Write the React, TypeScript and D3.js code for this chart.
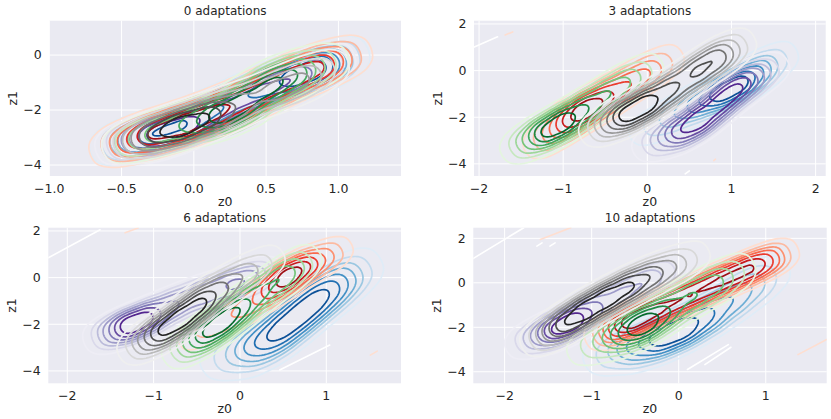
import * as d3 from 'd3';

const W = 831;
const H = 419;

// panel titles, domains, ticks
const titles = ['0 adaptations', '3 adaptations', '6 adaptations', '10 adaptations'];
const xDomains: [number, number][] = [[-1.0, 1.433], [-2.06, 2.12], [-2.22, 1.865], [-2.36, 1.7]];
const yDomains: [number, number][] = [[-4.4, 1.25], [-4.52, 2.14], [-4.53, 2.14], [-4.52, 2.48]];
const xTickVals = [[-1, -0.5, 0, 0.5, 1], [-2, -1, 0, 1, 2], [-2, -1, 0, 1], [-2, -1, 0, 1]];
const yTickVals = [[-4, -2, 0], [-4, -2, 0, 2], [-4, -2, 0, 2], [-4, -2, 0, 2]];
const xTickFmt = ['.1f', 'd', 'd', 'd'];

// density "mass" points per class: [z0, z1, weight]
type Pt = [number, number, number];
const p1Blues: Pt[] = [[-0.45, -3.05, 0.6], [-0.2, -2.8, 0.8], [0.05, -2.25, 0.7], [0.3, -1.65, 0.6], [0.55, -1.1, 0.7], [0.8, -0.6, 0.8], [0.95, -0.3, 0.5]];
const p1Purples: Pt[] = [[-0.4, -3.0, 0.7], [-0.15, -2.8, 0.95], [0.1, -2.2, 0.7], [0.35, -1.6, 0.7], [0.6, -1.05, 0.7], [0.85, -0.5, 0.6]];
const p1Reds: Pt[] = [[-0.45, -3.1, 0.6], [-0.2, -2.75, 0.8], [0.05, -2.3, 0.8], [0.3, -1.75, 0.7], [0.55, -1.15, 0.7], [0.8, -0.55, 0.7], [1.0, -0.2, 0.4]];
const p1Greens: Pt[] = [[-0.4, -3.05, 0.5], [-0.15, -2.7, 0.55], [0.1, -2.3, 0.6], [0.27, -2.05, 0.9], [0.45, -1.4, 0.5], [0.6, -0.85, 0.9], [0.85, -0.45, 0.45]];
const p1Greys: Pt[] = [[-0.4, -3.05, 0.6], [-0.2, -2.8, 1.0], [0.0, -2.45, 1.0], [0.2, -2.05, 0.8], [0.45, -1.5, 0.5], [0.68, -1.1, 0.75], [0.88, -0.55, 0.4]];

const p2Blues: Pt[] = [[0.05, -2.4, 0.35], [0.4, -1.8, 0.5], [0.7, -1.2, 0.7], [1.0, -0.8, 1.0], [1.25, -0.2, 0.6], [1.5, 0.4, 0.35]];
const p2Purples: Pt[] = [[0.15, -2.9, 0.5], [0.5, -2.45, 1.0], [0.75, -1.75, 0.6], [0.95, -1.15, 0.55], [1.1, -0.6, 0.75], [1.4, -0.15, 0.35]];
const p2Reds: Pt[] = [[-1.15, -2.8, 0.5], [-0.83, -1.85, 1.0], [-0.6, -1.45, 0.6], [-0.35, -0.9, 0.5], [-0.1, -0.3, 0.45], [0.15, 0.2, 0.35]];
const p2Greens: Pt[] = [[-1.4, -2.95, 0.55], [-1.1, -2.45, 1.0], [-0.85, -1.9, 0.55], [-0.6, -1.3, 0.5], [-0.35, -0.7, 0.45], [-0.1, -0.15, 0.35]];
const p2Greys: Pt[] = [[-0.45, -2.2, 0.6], [-0.15, -1.75, 1.0], [0.15, -1.1, 0.7], [0.45, -0.4, 0.65], [0.75, 0.35, 0.65], [0.95, 0.8, 0.45]];

const p3Blues: Pt[] = [[-0.1, -3.15, 0.6], [0.28, -2.95, 0.9], [0.45, -2.3, 0.75], [0.68, -1.6, 1.0], [0.9, -1.0, 0.75], [1.08, -0.3, 0.85], [1.3, 0.05, 0.4]];
const p3Purples: Pt[] = [[-1.45, -2.3, 0.55], [-1.2, -1.95, 1.0], [-0.9, -1.4, 0.5], [-0.6, -0.9, 0.45], [-0.3, -0.55, 0.5], [0.1, -0.1, 0.8]];
const p3Reds: Pt[] = [[-0.5, -2.4, 0.35], [-0.15, -1.75, 0.4], [0.15, -1.1, 0.5], [0.45, -0.3, 0.9], [0.65, 0.3, 1.0], [1.0, 0.85, 0.6]];
const p3Greens: Pt[] = [[-0.55, -2.75, 0.8], [-0.3, -2.2, 0.9], [-0.1, -1.6, 0.85], [0.1, -1.0, 0.6], [0.35, -0.35, 0.55], [0.6, 0.3, 0.75]];
const p3Greys: Pt[] = [[-1.05, -2.6, 0.9], [-0.8, -2.1, 1.0], [-0.55, -1.4, 0.95], [-0.35, -0.8, 0.85], [-0.05, -0.05, 0.6], [0.25, 0.5, 0.45]];

const p4Blues: Pt[] = [[-0.75, -3.0, 0.5], [-0.4, -2.8, 0.8], [-0.1, -2.35, 1.0], [0.2, -1.75, 0.95], [0.5, -1.05, 0.55], [0.75, -0.35, 0.5], [0.95, 0.25, 0.35]];
const p4Purples: Pt[] = [[-1.65, -2.4, 0.55], [-1.3, -1.95, 1.0], [-1.1, -1.45, 0.5], [-0.8, -0.85, 0.45], [-0.5, -0.2, 0.45], [-0.2, 0.4, 0.4]];
const p4Reds: Pt[] = [[-0.7, -2.0, 0.75], [-0.4, -1.45, 0.8], [-0.05, -0.85, 0.75], [0.3, -0.25, 0.75], [0.65, 0.35, 0.8], [1.0, 0.95, 0.75]];
const p4Greens: Pt[] = [[-0.95, -2.7, 0.45], [-0.5, -2.1, 1.0], [-0.3, -1.6, 0.55], [0.0, -0.95, 0.5], [0.3, -0.3, 0.5], [0.55, 0.3, 0.4]];
const p4Greys: Pt[] = [[-1.45, -2.2, 0.85], [-1.2, -1.55, 0.95], [-0.95, -0.95, 0.95], [-0.7, -0.45, 0.85], [-0.45, 0.1, 0.9], [-0.15, 0.6, 0.6], [0.1, 1.0, 0.35]];

const classMaps = ['Blues', 'Purples', 'Reds', 'Greens', 'Greys'];
const panelGroups = [
  [p1Blues, p1Purples, p1Reds, p1Greens, p1Greys],
  [p2Blues, p2Purples, p2Reds, p2Greens, p2Greys],
  [p3Blues, p3Purples, p3Reds, p3Greens, p3Greys],
  [p4Blues, p4Purples, p4Reds, p4Greens, p4Greys],
];
// kernel width (px) per class, same order as classMaps
const panelWidths = [
  [7, 7, 7, 7, 7],
  [6, 6, 6, 6, 6],
  [7.5, 6, 5.5, 6, 6],
  [7, 6, 5.5, 6.5, 6],
];

// stray near-zero contour fragments: [z0, z1] pairs, w = white, p = pale red
const p2Strays: [string, [number, number][]][] = [
  ['w', [[-2.08, 0.98], [-1.78, 1.45]]], ['p', [[-1.69, 1.53], [-1.6, 1.66]]],
  ['w', [[0.45, -4.43], [0.5, -4.3]]], ['p', [[0.79, -3.86], [0.81, -3.8]]],
];
const p3Strays: [string, [number, number][]][] = [
  ['w', [[-2.22, 0.85], [-1.62, 2.05]]], ['p', [[-1.33, 1.92], [-1.18, 2.13]]],
  ['w', [[0.46, -3.96], [1.04, -2.89]]], ['p', [[1.51, -3.32], [1.59, -3.15]]],
];
const p4Strays: [string, [number, number][]][] = [
  ['w', [[-2.38, 1.05], [-1.78, 2.48]]], ['w', [[-1.63, 1.65], [-1.57, 1.8]]], ['w', [[-1.48, 1.65], [-1.42, 1.8]]],
  ['p', [[-1.59, 1.95], [-1.24, 2.48]]],
  ['w', [[0.1, -3.9], [0.57, -2.78]]], ['w', [[0.3, -3.68], [0.6, -2.9]]],
  ['p', [[1.37, -3.23], [1.7, -2.55]]],
];
const panelStrays = [[], p2Strays, p3Strays, p4Strays];

// layout
const boxes = [
  { l: 49.3, r: 401, t: 20.7, b: 176 },
  { l: 474, r: 825.7, t: 20.7, b: 176 },
  { l: 48.3, r: 401, t: 227.7, b: 383.3 },
  { l: 473.3, r: 826.7, t: 227.7, b: 383.3 },
];
const LEVELS = [0.12, 0.25, 0.38, 0.5, 0.63, 0.76, 0.88];
const STRETCH = 0.3;
// flat-topped kernel across the band: copies offset by these multiples of the bandwidth
const KERNEL_OFFSETS = [-2, -1, 0, 1, 2];
const FONT = 'DejaVu Sans, sans-serif';
const TXT = '#262626';

const cmaps: Record<string, (t: number) => string> = {
  Blues: d3.interpolateBlues,
  Purples: d3.interpolatePurples,
  Reds: d3.interpolateReds,
  Greens: d3.interpolateGreens,
  Greys: d3.interpolateGreys,
};

// anisotropic KDE: kernel stretched along the direction of the class band
function kdePaths(points: Pt[], xs: d3.ScaleLinear<number, number>, ys: d3.ScaleLinear<number, number>, bw: number) {
  const P = points.map(([a, b, w]) => [xs(a), ys(b), w]);
  const f = P[0];
  const l = P[P.length - 1];
  const th = Math.atan2(l[1] - f[1], l[0] - f[0]);
  const c = Math.cos(th);
  const s = Math.sin(th);
  const ox = (f[0] + l[0]) / 2;
  const oy = (f[1] + l[1]) / 2;
  const GW = 300, GH = 200;
  const Q: number[][] = [];
  P.forEach(([x, y, w]) => {
    const dx = x - ox, dy = y - oy;
    const u = (dx * c + dy * s) * STRETCH + GW / 2;
    const v = (-dx * s + dy * c) + GH / 2;
    KERNEL_OFFSETS.forEach(k => Q.push([u, v + k * bw, w]));
  });
  const cf = d3.contourDensity<number[]>()
    .x(d => d[0]).y(d => d[1]).weight(d => d[2])
    .size([GW, GH]).cellSize(1).bandwidth(bw)
    .contours(Q);
  const proj = d3.geoTransform({
    point(X: number, Y: number) {
      const u = (X - GW / 2) / STRETCH, v = Y - GH / 2;
      this.stream.point(ox + u * c - v * s, oy + u * s + v * c);
    },
  });
  const path = d3.geoPath(proj);
  return LEVELS.map(fr => ({ fr, d: path(cf(fr * cf.max) as any) || '' }));
}

function Panel({ i }: { i: number }) {
  const bx = boxes[i];
  const xs = d3.scaleLinear().domain(xDomains[i]).range([bx.l, bx.r]);
  const ys = d3.scaleLinear().domain(yDomains[i]).range([bx.b, bx.t]);
  const fmtX = d3.format(xTickFmt[i]);
  const fmtY = d3.format('d');
  const cx = (bx.l + bx.r) / 2;
  const cy = (bx.t + bx.b) / 2;
  const line = d3.line<[number, number]>().x(d => xs(d[0])).y(d => ys(d[1]));
  return (
    <g>
      <defs>
        <clipPath id={`clip${i}`}>
          <rect x={bx.l} y={bx.t} width={bx.r - bx.l} height={bx.b - bx.t} />
        </clipPath>
      </defs>
      <rect x={bx.l} y={bx.t} width={bx.r - bx.l} height={bx.b - bx.t} fill="#EAEAF2" />
      {xTickVals[i].map(v => (
        <line key={'gx' + v} x1={xs(v)} x2={xs(v)} y1={bx.t} y2={bx.b} stroke="#fff" strokeWidth={1} />
      ))}
      {yTickVals[i].map(v => (
        <line key={'gy' + v} x1={bx.l} x2={bx.r} y1={ys(v)} y2={ys(v)} stroke="#fff" strokeWidth={1} />
      ))}
      <g clipPath={`url(#clip${i})`}>
        {panelStrays[i].map(([k, pts], j) => (
          <path key={'s' + j} d={line(pts) || ''} fill="none"
            stroke={k === 'w' ? '#ffffff' : cmaps.Reds(0.12)} strokeWidth={1.6} strokeLinecap="round" />
        ))}
        {panelGroups[i].map((pts, g) => {
          const cm = cmaps[classMaps[g]];
          return (
            <g key={'g' + g}>
              {kdePaths(pts, xs, ys, panelWidths[i][g]).map(({ fr, d }) => (
                <path key={fr} d={d} fill="none" stroke={cm(fr)} strokeWidth={1.7} strokeLinejoin="round" />
              ))}
            </g>
          );
        })}
      </g>
      {xTickVals[i].map(v => (
        <text key={'tx' + v} x={xs(v)} y={bx.b + 16.5} textAnchor="middle" fontSize={12.5} fill={TXT} fontFamily={FONT}>
          {fmtX(v)}
        </text>
      ))}
      {yTickVals[i].map(v => (
        <text key={'ty' + v} x={bx.l - 7.5} y={ys(v)} dy="0.35em" textAnchor="end" fontSize={12.5} fill={TXT} fontFamily={FONT}>
          {fmtY(v)}
        </text>
      ))}
      <text x={cx} y={bx.t - 5.5} textAnchor="middle" fontSize={12} fill={TXT} fontFamily={FONT}>{titles[i]}</text>
      <text x={cx} y={bx.b + 30} textAnchor="middle" fontSize={12.5} fill={TXT} fontFamily={FONT}>z0</text>
      <text transform={`translate(${bx.l - 32.5},${cy}) rotate(-90)`} textAnchor="middle" fontSize={12.5} fill={TXT} fontFamily={FONT}>z1</text>
    </g>
  );
}

export default function App() {
  return (
    <svg width={W} height={H} style={{ position: 'absolute', left: 0, top: 0, background: '#fff' }}>
      {[0, 1, 2, 3].map(i => <Panel key={i} i={i} />)}
    </svg>
  );
}
